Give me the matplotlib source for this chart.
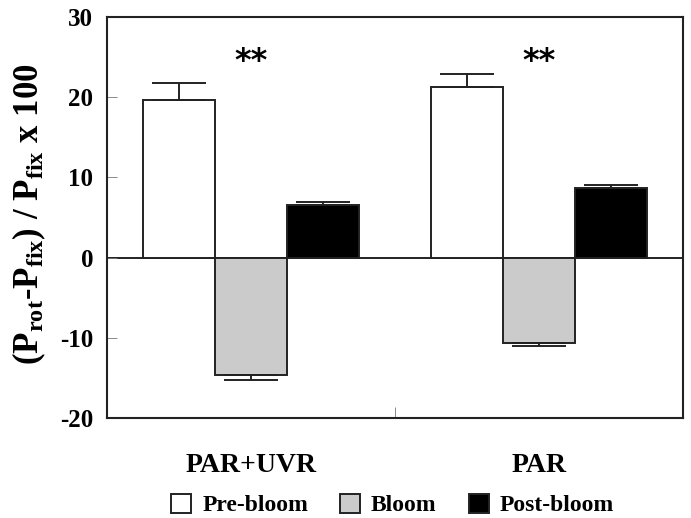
import matplotlib
matplotlib.use("Agg")
import matplotlib.pyplot as plt
import numpy as np

plt.rcParams['font.family'] = ['Liberation Serif', 'DejaVu Serif']
plt.rcParams['font.weight'] = 'bold'
plt.rcParams['mathtext.fontset'] = 'custom'
plt.rcParams['mathtext.rm'] = 'Liberation Serif:bold'
plt.rcParams['mathtext.it'] = 'Liberation Serif:bold'
plt.rcParams['mathtext.bf'] = 'Liberation Serif:bold'

groups = ["PAR+UVR", "PAR"]
series = ["Pre-bloom", "Bloom", "Post-bloom"]
pre_bloom = [19.6, 21.3]
pre_bloom_err = [2.2, 1.6]
bloom = [-14.7, -10.6]
bloom_err = [0.6, 0.4]
post_bloom = [6.5, 8.7]
post_bloom_err = [0.4, 0.4]
signif = ["**", "**"]
yticks = [-20, -10, 0, 10, 20, 30]

fig = plt.figure(figsize=(6.91, 5.18), dpi=100)
ax = fig.add_axes([107/691, 1-418/518, 576/691, 401/518])

x = np.arange(len(groups))
w = 0.25
colors = ["white", "#cbcbcb", "black"]
vals = [pre_bloom, bloom, post_bloom]
errs = [pre_bloom_err, bloom_err, post_bloom_err]
handles = []
for i, (v, e, c, name) in enumerate(zip(vals, errs, colors, series)):
    pos = x + (i - 1) * w
    v = np.array(v); e = np.array(e)
    b = ax.bar(pos, v, w, color=c, edgecolor="#222222", linewidth=1.4, label=name, zorder=2)
    handles.append(b)
    lower = np.where(v < 0, e, 0)
    upper = np.where(v >= 0, e, 0)
    ax.errorbar(pos, v, yerr=[lower, upper], fmt="none", ecolor="#222222",
                elinewidth=1.4, capsize=19.5, capthick=1.4, zorder=3)

ax.axhline(0, color="#222222", linewidth=1.4, zorder=1)
ax.set_xlim(-0.5, 1.5)
ax.set_ylim(-20, 30)
ax.set_yticks(yticks)
ax.set_yticklabels([str(t) for t in yticks], fontsize=18, fontweight='bold')
ax.tick_params(axis='y', direction='in', length=7, width=0.6, pad=10, colors="#777777", labelcolor="black")
ax.set_xticks([0.5])
ax.set_xticklabels([""])
ax.tick_params(axis='x', direction='in', length=8, width=0.6, colors="#777777")
for s in ax.spines.values():
    s.set_linewidth(1.5)
    s.set_color("#222222")

for xi, s in zip(x, signif):
    ax.text(xi, 24.5, s, ha='center', va='center', fontsize=23, fontweight='bold',
            family=['DejaVu Sans'])

for xi, g in zip(x, groups):
    ax.text(xi, -24.4, g, ha='center', va='top', fontsize=20, fontweight='bold')

fig.text(29/691, 1-214/518, r"(P$_{\mathrm{rot}}$-P$_{\mathrm{fix}}$) / P$_{\mathrm{fix}}$ x 100",
         rotation=90, ha='center', va='center', fontsize=25, fontweight='bold')

fig.legend(handles=handles, labels=series, loc='center', bbox_to_anchor=(0.568, 1-505/518),
           ncol=3, frameon=False, handlelength=0.85, handleheight=0.85,
           handletextpad=0.47, columnspacing=1.35, borderpad=0.2,
           prop={'weight': 'bold', 'size': 17})

fig.savefig("out.png", dpi=100)
